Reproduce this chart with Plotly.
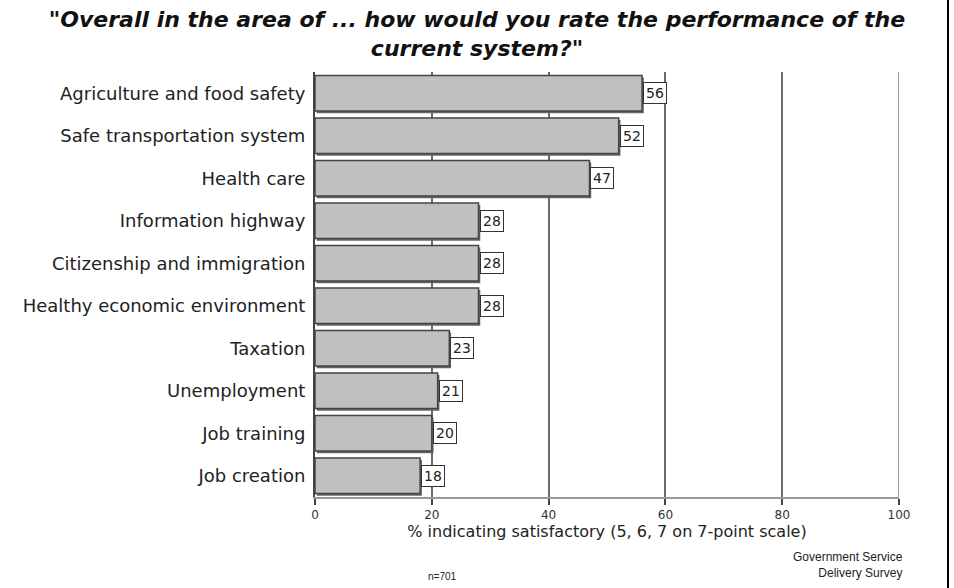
import plotly.graph_objects as go

# Survey results: share of respondents rating each area as satisfactory
categories = [
    "Agriculture and food safety",
    "Safe transportation system",
    "Health care",
    "Information highway",
    "Citizenship and immigration",
    "Healthy economic environment",
    "Taxation",
    "Unemployment",
    "Job training",
    "Job creation",
]
values = [56, 52, 47, 28, 28, 28, 23, 21, 20, 18]
tick_values = [0, 20, 40, 60, 80, 100]

FONT = "Liberation Sans, Arial, sans-serif"
WIDE = "DejaVu Sans, Verdana, sans-serif"

# plot area in pixels
L, R, T, B = 315, 899, 72, 497
PW, PH = R - L, B - T

fig = go.Figure()

# drop shadow under each bar
fig.add_trace(go.Bar(
    y=categories, x=values, base=0.3, orientation="h",
    width=0.84, offset=-0.42 + 0.05,
    marker=dict(color="#666666", line=dict(width=0)),
    hoverinfo="skip", showlegend=False,
))
# main bars
fig.add_trace(go.Bar(
    y=categories, x=values, orientation="h",
    width=0.84, offset=-0.42,
    marker=dict(color="#c0c0c0", line=dict(color="#444444", width=1.5)),
    showlegend=False,
))

# boxed value labels at the end of each bar
for c, v in zip(categories, values):
    fig.add_annotation(
        x=v, y=c, xref="x", yref="y", text=str(v),
        showarrow=False, xanchor="left", xshift=1,
        font=dict(family=WIDE, size=14, color="#222222"),
        bgcolor="white", bordercolor="#333333", borderwidth=1, borderpad=2,
    )

fig.update_layout(
    width=954, height=588,
    margin=dict(l=L, r=954 - R, t=T, b=588 - B),
    paper_bgcolor="white", plot_bgcolor="white",
    barmode="overlay",
    font=dict(family=FONT, color="#222222"),
    title=dict(
        text="<b><i>\"Overall in the area of ... how would you rate the performance of the<br>current system?\"</i></b>",
        x=0.5, xanchor="center", xref="container", y=1 - 27 / 588, yanchor="middle",
        yref="container",
        font=dict(family=WIDE, size=22, color="#111111"),
    ),
    xaxis=dict(
        range=[0, 100], tickvals=tick_values,
        showgrid=True, gridcolor="#6a6a6a", gridwidth=2,
        showline=True, linecolor="#999999", linewidth=2,
        ticks="outside", ticklen=6, tickcolor="#444444", tickwidth=1.5,
        tickfont=dict(family=WIDE, size=12, color="#333333"),
        title=dict(text="% indicating satisfactory (5, 6, 7 on 7-point scale)",
                   font=dict(family=WIDE, size=16, color="#222222"), standoff=1),
        zeroline=False,
    ),
    yaxis=dict(
        autorange="reversed",
        showline=True, linecolor="#444444", linewidth=2,
        ticks="", tickfont=dict(family=WIDE, size=18, color="#222222"),
        ticklabelstandoff=4,
        showgrid=False,
    ),
)

# outer gridline at 100
fig.add_shape(type="line", xref="x", yref="paper", x0=100, x1=100, y0=0, y1=1,
              line=dict(color="#9a9a9a", width=2), layer="below")

fig.add_annotation(
    x=1.0 + (905 - R) / PW, y=-(548 - B) / PH, xref="paper", yref="paper",
    text="Government Service<br>Delivery Survey", showarrow=False,
    align="right", xanchor="right", yanchor="top",
    font=dict(family=FONT, size=12, color="#222222"),
)
fig.add_annotation(
    x=(442 - L) / PW, y=-(576 - B) / PH, xref="paper", yref="paper",
    text="n=701", showarrow=False, xanchor="center", yanchor="middle",
    font=dict(family=FONT, size=10, color="#222222"),
)

# vertical rule along the right edge of the page
fig.add_shape(type="line", xref="paper", yref="paper",
              x0=1 + (948 - R) / PW, x1=1 + (948 - R) / PW,
              y0=-(588 - B) / PH, y1=1 + T / PH,
              line=dict(color="#000000", width=2))

fig.write_html("out.html")
